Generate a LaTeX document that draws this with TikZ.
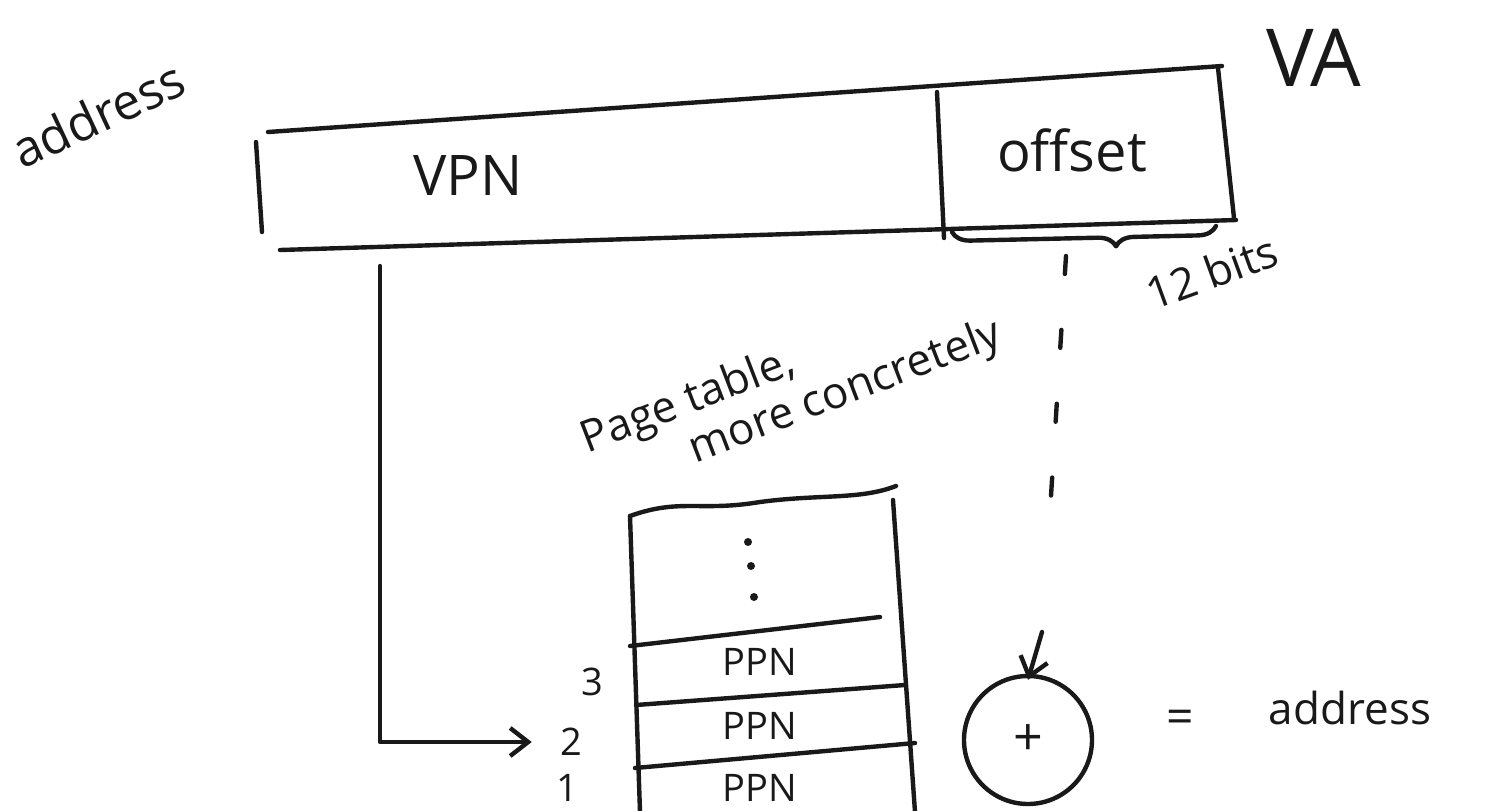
\documentclass[tikz,border=0pt]{standalone}
\usepackage{fontspec}
\setmainfont{Open Sans}
\usetikzlibrary{arrows.meta,decorations.pathreplacing}

\tikzset{
  ink/.style={line width=2.2pt, line cap=round, line join=round, black!90},
  lbl/.style={inner sep=0pt, text=black!90},
  big/.style={lbl, font=\fontsize{28}{32}\selectfont},
  mid/.style={lbl, font=\fontsize{22}{26}\selectfont},
  small/.style={lbl, font=\fontsize{19}{22}\selectfont},
  barb/.style={-{Straight Barb[length=9pt,width=14pt,line width=2.2pt]}},
  dashline/.style={ink, dash pattern=on 9pt off 28pt},
  dot/.style={circle, fill=black!90, inner sep=0pt, minimum size=4pt},
}

\begin{document}
\begin{tikzpicture}[x=0.5pt,y=-0.5pt]
\useasboundingbox (0,0) rectangle (1506,810);

% ---------- virtual address: VPN | offset ----------
\coordinate (tl) at (268,132);
\coordinate (tr) at (1222,66);
\coordinate (bl) at (280,250);
\coordinate (br) at (1236,220);
\coordinate (midtop) at (937,92);
\coordinate (midbot) at (944,238);

\draw[ink] (tl) -- (tr);
\draw[ink] (bl) -- (br);
\draw[ink] (256,142) -- (262,232);
\draw[ink] (1218,68) -- (1234,218);
\draw[ink] (midtop) -- (midbot);

\node[big] (vpn) at (468,176) {VPN};
\node[big] (offset) at (1072,150) {offset};
\node[lbl, font=\fontsize{40}{44}\selectfont] (va) at (1314,58) {VA};
\node[lbl, font=\fontsize{25}{30}\selectfont, rotate=25] (addr1) at (98,114) {address};

% brace marking the offset width
\draw[ink, decorate, decoration={brace, mirror, amplitude=9pt, aspect=0.62}]
  (952,232) -- (1216,226);
\node[mid, rotate=20] (bits) at (1212,272) {12 bits};

% ---------- caption ----------
\node[mid, rotate=21, align=left, font=\fontsize{22}{24}\selectfont]
  (cap) at (792,388) {Page table,\\\hspace*{2.2em}more concretely};

% ---------- page table ----------
\coordinate (ptl) at (630,516);
\coordinate (ptr) at (896,486);
\draw[ink] (ptl) .. controls (680,498) and (700,512) .. (760,502)
                 .. controls (820,494) and (860,500) .. (ptr);
\draw[ink] (ptl) -- (640,812);
\draw[ink] (893,500) -- (915,812);
\draw[ink] (630,646) -- (880,617);
\draw[ink] (636,705) -- (905,685);
\draw[ink] (635,768) -- (915,743);

% more entries above
\node[dot] (d1) at (748,542) {};
\node[dot] (d2) at (751,566) {};
\node[dot] (d3) at (754,597) {};

\node[small] (ppn3) at (760,662) {PPN};
\node[small] (ppn2) at (760,726) {PPN};
\node[small] (ppn1) at (760,788) {PPN};

\node[small] (r3) at (592,682) {3};
\node[small] (r2) at (571,742) {2};
\node[small] (r1) at (567,788) {1};

% VPN indexes the page table
\coordinate (vpnout) at (380,266);
\draw[ink, barb] (vpnout) |- ([xshift=-14pt]r2.west);

% ---------- offset carried down to the adder ----------
\node[draw, ink, circle, minimum size=64pt, inner sep=0pt,
      font=\fontsize{26}{30}\selectfont] (plus) at (1028,740) {+};
\coordinate (offout) at (1066,256);
\coordinate (offmid) at (1050,512);
\coordinate (tipstart) at (1042,632);
\draw[dashline] (offout) -- (offmid);
\draw[ink, barb] (tipstart) -- ([yshift=-3pt]plus.north);

\node[lbl, font=\fontsize{24}{28}\selectfont] (eq) at (1180,722) {=};
\node[mid] (addr2) at (1350,708) {address};

\end{tikzpicture}
\end{document}
